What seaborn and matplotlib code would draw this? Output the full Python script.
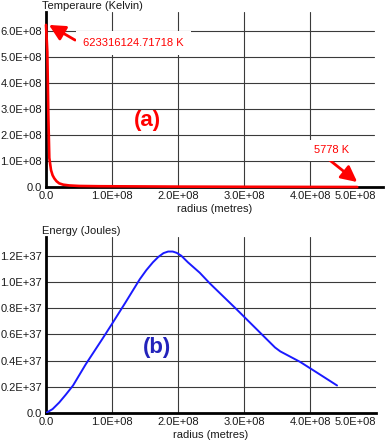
import matplotlib
matplotlib.use("Agg")
import matplotlib.pyplot as plt
import seaborn as sns
import pandas as pd
from matplotlib.ticker import FixedLocator, FixedFormatter

# temperature profile (panel a)
temp_radius = [0.0, 2.0e6, 3.5e6, 5.0e6, 7.6e6, 1.0e7, 1.26e7, 1.6e7, 2.0e7, 2.6e7,
               3.5e7, 5.0e7, 8.0e7, 1.2e8, 2.0e8, 3.0e8, 4.0e8, 4.71e8]
temp_kelvin = [623316124.71718, 5.2e8, 2.8e8, 1.12e8, 0.65e8, 0.45e8, 0.33e8, 0.22e8, 0.14e8,
               0.09e8, 0.06e8, 0.04e8, 0.03e8, 0.025e8, 0.015e8, 0.008e8, 0.003e8, 5778.0]

# energy profile (panel b)
energy_radius = [0.0, 1.0e7, 2.0e7, 3.0e7, 4.1e7, 6.0e7, 8.6e7, 1.0e8, 1.2e8, 1.42e8, 1.52e8,
                 1.62e8, 1.7e8, 1.78e8, 1.85e8, 1.92e8, 1.98e8, 2.05e8, 2.15e8, 2.33e8,
                 2.48e8, 2.89e8, 3.2e8, 3.4e8, 3.47e8, 3.55e8, 3.7e8, 3.85e8, 4.1e8, 4.41e8]
energy_joules = [0.0, 0.03e37, 0.08e37, 0.14e37, 0.21e37, 0.37e37, 0.57e37, 0.68e37, 0.84e37,
                 1.02e37, 1.09e37, 1.15e37, 1.19e37, 1.22e37, 1.232e37, 1.232e37, 1.222e37,
                 1.20e37, 1.15e37, 1.07e37, 0.99e37, 0.79e37, 0.635e37, 0.535e37, 0.50e37,
                 0.47e37, 0.43e37, 0.39e37, 0.31e37, 0.21e37]

x_ticks = [0.0, 1e8, 2e8, 3e8, 4e8, 5e8]
x_tick_labels = ["0.0", "1.0E+08", "2.0E+08", "3.0E+08", "4.0E+08", "5.0E+08"]
temp_ticks = [0.0, 1e8, 2e8, 3e8, 4e8, 5e8, 6e8]
temp_tick_labels = ["0.0", "1.0E+08", "2.0E+08", "3.0E+08", "4.0E+08", "5.0E+08", "6.0E+08"]
energy_ticks = [0.0, 0.2e37, 0.4e37, 0.6e37, 0.8e37, 1.0e37, 1.2e37]
energy_tick_labels = ["0.0", "0.2E+37", "0.4E+37", "0.6E+37", "0.8E+37", "1.0E+37", "1.2E+37"]

sns.set_theme(style="white")
plt.rcParams["font.family"] = ["Liberation Sans", "DejaVu Sans"]

GRID = "#3a3a3a"
TXT = "#1a1a1a"
FS = 8


def style_axes(ax, yticks, ylabels, ylabel, grid_x_frac):
    ax.xaxis.set_major_locator(FixedLocator(x_ticks))
    ax.xaxis.set_major_formatter(FixedFormatter(x_tick_labels))
    ax.yaxis.set_major_locator(FixedLocator(yticks))
    ax.yaxis.set_major_formatter(FixedFormatter(ylabels))
    ax.tick_params(length=0, labelsize=FS, colors=TXT, pad=3)
    for s in ["top", "right"]:
        ax.spines[s].set_visible(False)
    for s in ["left", "bottom"]:
        ax.spines[s].set_color("black")
        ax.spines[s].set_linewidth(2.0)
        ax.spines[s].set_zorder(2.6)
    for y in yticks[1:]:
        ax.axhline(y, xmin=0, xmax=grid_x_frac, color=GRID, lw=0.8, zorder=1)
    for x in x_ticks[1:5]:
        ax.axvline(x, color=GRID, lw=0.8, zorder=1)
    ax.set_xlabel("radius (metres)", fontsize=FS, color=TXT, labelpad=2)
    ax.set_ylabel("")
    ax.annotate(ylabel, xy=(0, 1), xycoords="axes fraction", xytext=(-4, 1),
                textcoords="offset pixels", ha="left", va="bottom", fontsize=FS, color=TXT)
    # last x label is pulled inside the figure
    fig.canvas.draw()
    ax.get_xticklabels()[-1].set_horizontalalignment("right")


fig = plt.figure(figsize=(3.85, 4.44), dpi=100)
ax1 = fig.add_axes([46 / 385, 1 - 187 / 444, 337 / 385, 175 / 444])
ax2 = fig.add_axes([46 / 385, 1 - 413 / 444, 330 / 385, 176 / 444])

temp_df = pd.DataFrame({"radius": temp_radius, "temp": temp_kelvin})
sns.lineplot(data=temp_df, x="radius", y="temp", ax=ax1, color="#ff0000", lw=1.9,
             estimator=None, zorder=3, clip_on=False)
ax1.set_xlim(0, 5.1e8)
ax1.set_ylim(0, 6.73e8)
style_axes(ax1, temp_ticks, temp_tick_labels, "Temperaure (Kelvin)", 0.973)

ax1.text(1.53e8, 2.54e8, "(a)", color="#ff0000", fontsize=16, fontweight="bold",
         ha="center", va="center", zorder=4)
ax1.annotate("", xy=(temp_radius[0] + 4.5e6, temp_kelvin[0]), xytext=(0.44e8, 5.65e8),
             arrowprops=dict(arrowstyle="-|>", color="#ff0000", lw=2, mutation_scale=24,
                             shrinkA=0, shrinkB=0), zorder=4)
ax1.text(0.56e8, 5.55e8, "%.5f K" % temp_kelvin[0], color="#ff0000", fontsize=FS,
         ha="left", va="center", zorder=4,
         bbox=dict(facecolor="white", edgecolor="none", pad=5))
ax1.annotate("", xy=(temp_radius[-1], 0.19e8), xytext=(4.27e8, 1.08e8),
             arrowprops=dict(arrowstyle="-|>", color="#ff0000", lw=2, mutation_scale=24,
                             shrinkA=0, shrinkB=0), zorder=4)
ax1.text(4.05e8, 1.42e8, "%d K" % temp_kelvin[-1], color="#ff0000", fontsize=FS,
         ha="left", va="center", zorder=4,
         bbox=dict(facecolor="white", edgecolor="none", pad=4))

energy_df = pd.DataFrame({"radius": energy_radius, "energy": energy_joules})
sns.lineplot(data=energy_df, x="radius", y="energy", ax=ax2, color="#1a1aff", lw=1.4,
             estimator=None, zorder=3)
ax2.set_xlim(0, 5.0e8)
ax2.set_ylim(0, 1.343e37)
style_axes(ax2, energy_ticks, energy_tick_labels, "Energy (Joules)", 1.0)
ax2.text(1.68e8, 0.5e37, "(b)", color="#2323bb", fontsize=16, fontweight="bold",
         ha="center", va="center", zorder=4)

fig.savefig("out.png", dpi=100, facecolor="white")
